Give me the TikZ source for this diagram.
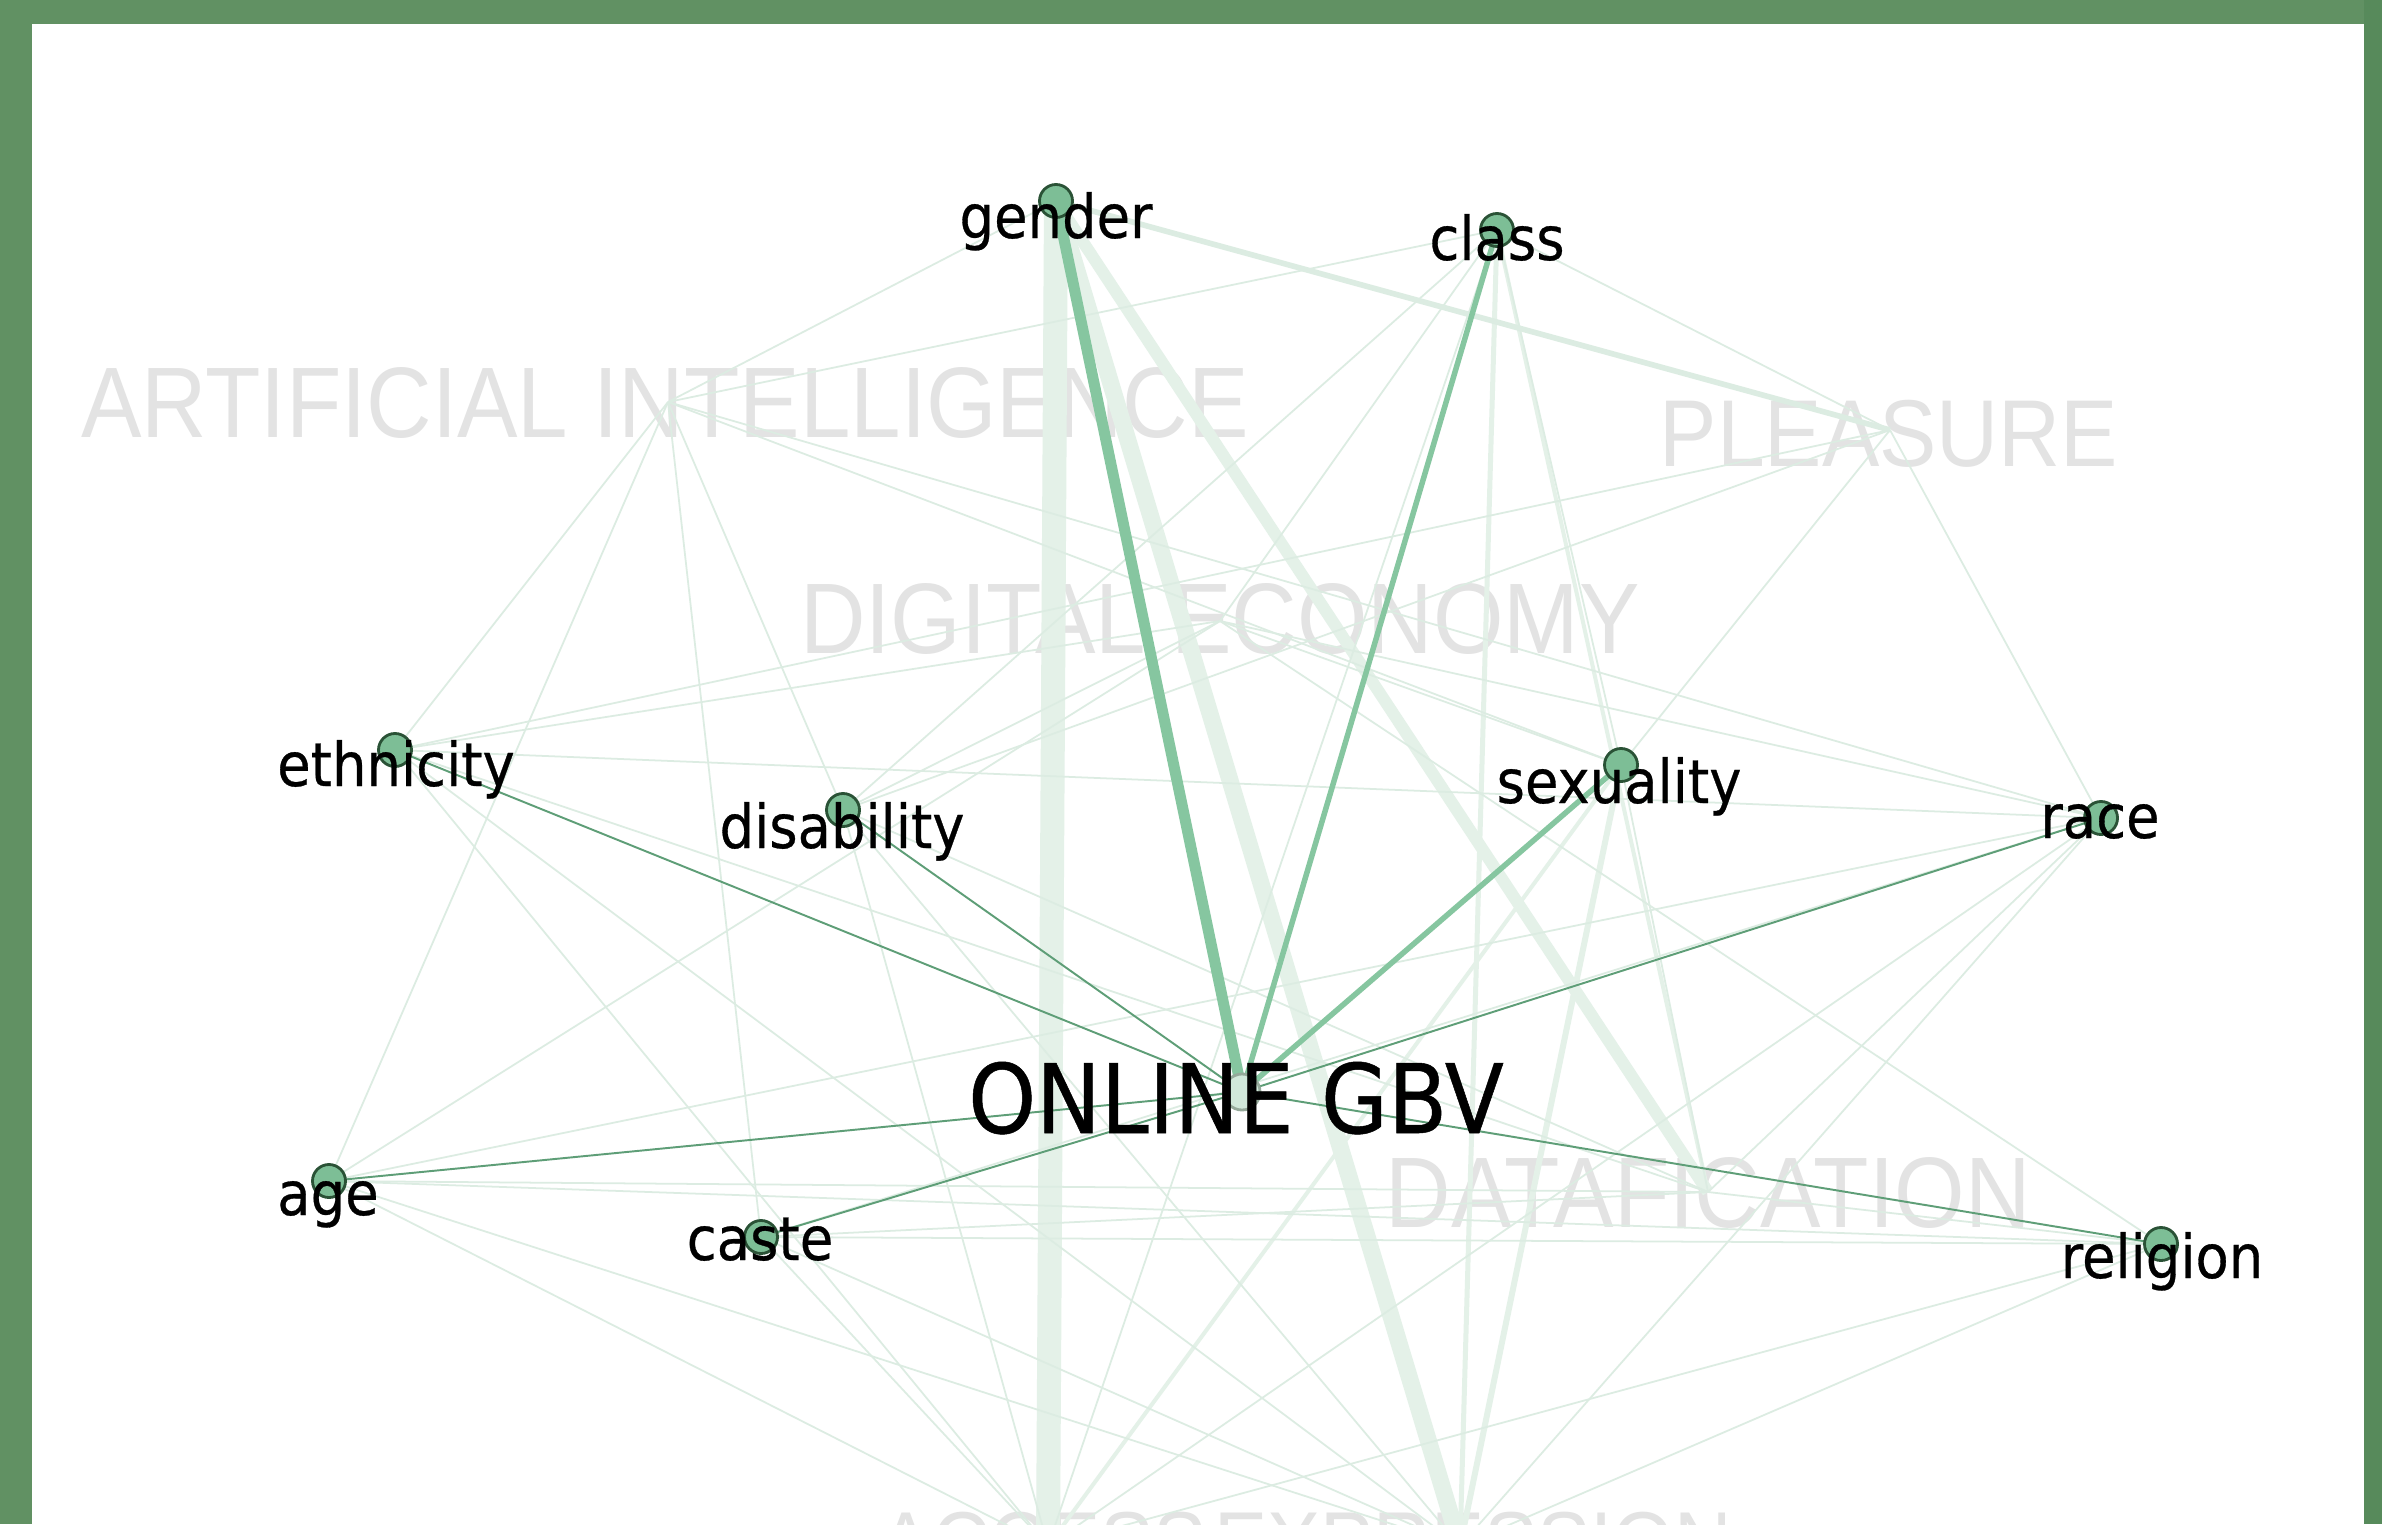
\documentclass[tikz,border=0pt]{standalone}
\usepackage{fontspec}
\newfontfamily\lblfont[FakeStretch=0.9,FakeBold=0.5]{DejaVu Sans}
\newfontfamily\bgfont[FakeStretch=0.905]{Liberation Sans}
\usetikzlibrary{backgrounds}
\definecolor{framegreen}{HTML}{619163}
\definecolor{framedark}{HTML}{578A5B}
\definecolor{dotfill}{HTML}{7DBE96}
\definecolor{dotline}{HTML}{2A5236}
\definecolor{mainedge}{HTML}{86C6A0}
\definecolor{thinedge}{HTML}{5E9E77}
\definecolor{faintedge}{HTML}{DCECE2}
\definecolor{bandedge}{HTML}{E4F1E8}
\definecolor{ghost}{HTML}{E3E3E3}

\begin{document}
\begin{tikzpicture}[x=0.01cm,y=-0.01cm]
\tikzstyle{dot}=[circle,draw=dotline,fill=dotfill,line width=0.8pt,minimum size=0.33cm,inner sep=0pt]
\tikzstyle{hubdot}=[dot,minimum size=0.36cm,fill=dotfill!35,draw=dotline!50]
\tikzstyle{term}=[anchor=base,inner sep=0pt,font=\lblfont\fontsize{17.2}{20}\selectfont]
\tikzstyle{hub}=[anchor=base,inner sep=0pt,font=\lblfont\fontsize{27.3}{32}\selectfont]
\tikzstyle{theme}=[anchor=base,inner sep=0pt,text=ghost,font=\bgfont\fontsize{28.5}{34}\selectfont]
\tikzstyle{lowtheme}=[theme,font=\bgfont\fontsize{25}{30}\selectfont]
\tikzstyle{faint}=[draw=faintedge,line width=0.5pt]
\tikzstyle{band}=[draw=bandedge]
\tikzstyle{link}=[draw=mainedge]
\tikzstyle{thinlink}=[draw=thinedge,line width=0.55pt]
\useasboundingbox (0,0) rectangle (2382,1524);

\coordinate (ai) at (668,402);
\coordinate (pleasure) at (1890,430);
\coordinate (digeco) at (1220,621);
\coordinate (datafic) at (1708,1192);
\coordinate (access) at (1048,1546);
\coordinate (express) at (1460,1546);

\node[hubdot] (online) at (1242,1092) {};
\node[dot] (gender) at (1056,201) {};
\node[dot] (class) at (1497,230) {};
\node[dot] (ethnicity) at (395,750) {};
\node[dot] (disability) at (843,810) {};
\node[dot] (sexuality) at (1621,765) {};
\node[dot] (race) at (2101,818) {};
\node[dot] (age) at (329,1181) {};
\node[dot] (caste) at (761,1237) {};
\node[dot] (religion) at (2161,1244) {};

\begin{pgfonlayer}{background}
\fill[framegreen] (0,0) rectangle (2382,1524);
\fill[framedark] (2364,0) rectangle (2382,1524);
\fill[white] (32,24) rectangle (2364,1524);

\node[theme] (ai-t) at (665,437) {ARTIFICIAL INTELLIGENCE};
\node[theme,font=\bgfont\fontsize{27}{32}\selectfont] (pleasure-t) at (1889,466) {PLEASURE};
\node[theme] (digeco-t) at (1220,653) {DIGITAL ECONOMY};
\node[theme] (datafic-t) at (1708,1227) {DATAFICATION};
\node[lowtheme,anchor=base east] (access-t) at (1207,1573) {ACCESS};
\node[lowtheme,anchor=base west] (express-t) at (1214,1573) {EXPRESSION};

\draw[band,line width=0.24cm] (gender.center) -- (access);
\draw[band,line width=0.17cm] (gender.center) -- (express);
\draw[band,line width=0.12cm] (gender.center) -- (datafic);
\draw[band,line width=0.05cm] (class.center) -- (express);
\draw[band,line width=0.06cm] (sexuality.center) -- (express);
\draw[band,line width=0.04cm] (sexuality.center) -- (access);
\draw[band,line width=0.04cm] (class.center) -- (datafic);

\foreach \a/\b in {ai/gender,ai/class,ai/age,ai/disability,ai/caste,ai/race,ai/sexuality,ai/ethnicity,
                   pleasure/class,pleasure/sexuality,pleasure/race,pleasure/ethnicity,pleasure/disability,
                   digeco/ethnicity,digeco/race,digeco/class,digeco/disability,digeco/sexuality,digeco/age,digeco/religion,
                   datafic/age,datafic/caste,datafic/race,datafic/religion,datafic/sexuality,datafic/ethnicity,datafic/disability,
                   access/ethnicity,access/disability,access/caste,access/age,access/race,access/class,access/religion,
                   express/race,express/age,express/caste,express/disability,express/ethnicity,express/religion,
                   ethnicity/race,race/caste,race/age,age/religion,caste/religion,class/sexuality,class/disability}
  \draw[faint] (\a) -- (\b.center);
\draw[faint,line width=1.6pt] (gender.center) -- (pleasure);

\draw[link,line width=0.11cm] (gender.center) -- (online.center);
\draw[link,line width=0.055cm] (class.center) -- (online.center);
\draw[link,line width=0.055cm] (sexuality.center) -- (online.center);
\foreach \b in {ethnicity,disability,race,age,caste,religion}
  \draw[thinlink] (\b.center) -- (online.center);
\end{pgfonlayer}

\node[hub] (online-t) at (1236,1133) {ONLINE GBV};
\node[term] (gender-t) at (1056,238) {gender};
\node[term] (class-t) at (1497,260) {class};
\node[term] (ethnicity-t) at (396,786) {ethnicity};
\node[term] (disability-t) at (842,848) {disability};
\node[term] (sexuality-t) at (1619,803) {sexuality};
\node[term] (race-t) at (2100,838) {race};
\node[term] (age-t) at (328,1215) {age};
\node[term] (caste-t) at (760,1260) {caste};
\node[term] (religion-t) at (2162,1278) {religion};
\end{tikzpicture}
\end{document}
